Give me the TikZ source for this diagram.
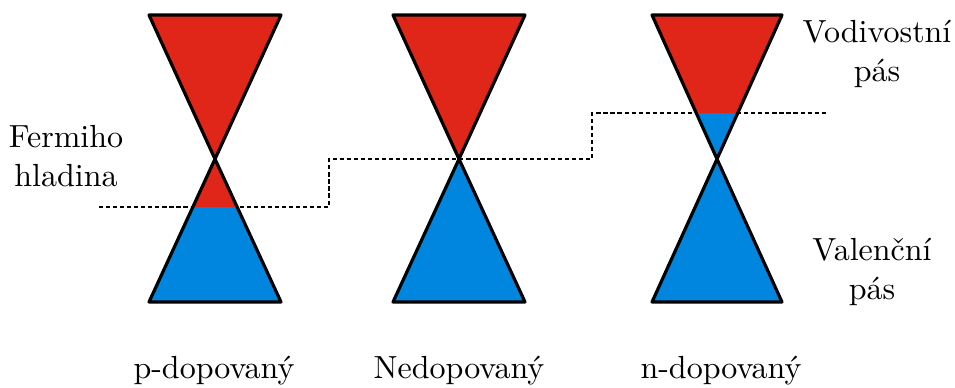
\documentclass[tikz,border=0pt]{standalone}
\definecolor{cred}{RGB}{224,38,24}
\definecolor{cblue}{RGB}{0,134,222}
\tikzset{
  outline/.style={draw=black, line width=1pt, line join=round},
  fermi/.style={draw=black, line width=0.6pt, dash pattern=on 1.3pt off 0.9pt},
  lbl/.style={inner sep=0pt, font=\normalsize},
}
\begin{document}
\begin{tikzpicture}[x=0.3125pt,y=-0.3125pt]
\useasboundingbox (0,0) rectangle (955,387);
% Fermi level
\coordinate (f0) at (99,207);
\coordinate (f1) at (329,207);
\coordinate (f2) at (329,159);
\coordinate (f3) at (592,159);
\coordinate (f4) at (592,113);
\coordinate (f5) at (828,113);
\draw[fermi] (f0) -- (f1) -- (f2) -- (f3) -- (f4) -- (f5);
% left cone (p-doped)
\fill[cred] (149,15) -- (281,15) -- (215,159) -- cycle;
\fill[cred] (215,159) -- (149,302) -- (281,302) -- cycle;
\begin{scope}
  \clip (215,159) -- (149,302) -- (281,302) -- cycle;
  \fill[cblue] (140,207) rectangle (290,310);
\end{scope}
\draw[outline] (149,15) -- (281,15) -- (215,159) -- cycle
               (215,159) -- (149,302) -- (281,302) -- cycle;
% middle cone (undoped)
\fill[cred] (393,15) -- (525,15) -- (459,159) -- cycle;
\fill[cblue] (459,159) -- (393,302) -- (525,302) -- cycle;
\draw[outline] (393,15) -- (525,15) -- (459,159) -- cycle
               (459,159) -- (393,302) -- (525,302) -- cycle;
% right cone (n-doped)
\fill[cred] (652,15) -- (782,15) -- (717,159) -- cycle;
\begin{scope}
  \clip (652,15) -- (782,15) -- (717,159) -- cycle;
  \fill[cblue] (640,113) rectangle (790,165);
\end{scope}
\fill[cblue] (717,159) -- (652,302) -- (782,302) -- cycle;
\draw[outline] (652,15) -- (782,15) -- (717,159) -- cycle
               (717,159) -- (652,302) -- (782,302) -- cycle;
% labels
\node[lbl, align=center] (fermiLbl) at (66,156) {Fermiho\\hladina};
\node[lbl, align=center] (vodLbl) at (877,54) {Vodivostní\\pás};
\node[lbl, align=center] (valLbl) at (872,272) {Valenční\\pás};
\node[lbl, anchor=base] (pLbl) at (214,378) {p-dopovaný};
\node[lbl, anchor=base] (uLbl) at (459,378) {Nedopovaný};
\node[lbl, anchor=base] (nLbl) at (721,378) {n-dopovaný};
\end{tikzpicture}
\end{document}
